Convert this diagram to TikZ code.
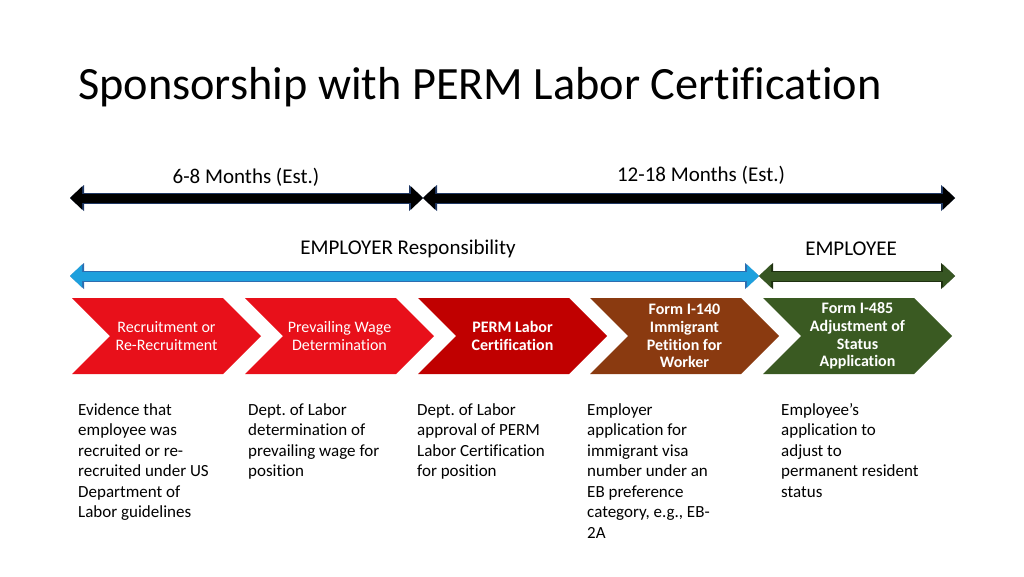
\documentclass[tikz,border=0pt]{standalone}
\usepackage{fontspec}
\setmainfont{Carlito}[Ligatures=NoCommon]
\usetikzlibrary{arrows.meta}
\frenchspacing
\definecolor{stepred}{HTML}{E8101A}
\definecolor{permred}{HTML}{C00000}
\definecolor{formbrown}{HTML}{8A3A10}
\definecolor{formgreen}{HTML}{3A5A22}
\definecolor{spanedge}{HTML}{203864}
\definecolor{duty}{HTML}{1EA0DD}
\definecolor{dutyedge}{HTML}{2E6DB0}
\definecolor{dutygreen}{HTML}{375623}
\definecolor{greenedge}{HTML}{1E3010}

\tikzset{
  span/.style 2 args={line width=9pt, draw=#1,
    {Triangle[width=23pt,length=12pt,line width=0pt]}-{Triangle[width=23pt,length=12pt,line width=0pt]},
    preaction={draw=#2, line width=11pt,
      {Triangle[width=26pt,length=14pt,line width=0pt]}-{Triangle[width=26pt,length=14pt,line width=0pt]}}},
  spanlabel/.style={font=\fontsize{21}{25}\selectfont, inner sep=0pt},
  steptext/.style={text=white, align=center, font=\fontsize{16}{17.7}\selectfont},
  note/.style={anchor=north west, align=left, inner sep=0pt, font=\fontsize{17}{20.5}\selectfont}
}

\begin{document}
\begin{tikzpicture}[x=1pt,y=-1pt]
  \useasboundingbox (0,0) rectangle (1024,576);

  \node[anchor=base west, inner sep=0pt, font=\fontsize{46.3}{56}\selectfont] (title) at (78,99)
    {Sponsorship with PERM Labor Certification};

  % time estimates
  \coordinate (t0) at (70,198);
  \coordinate (t1) at (423,198);
  \coordinate (t2) at (955,198);
  \draw[span={black}{spanedge}] (t0) -- (t1);
  \draw[span={black}{spanedge}] (t1) -- (t2);
  \node[spanlabel] (est1) at (246,177) {6-8 Months (Est.)};
  \node[spanlabel] (est2) at (701,175) {12-18 Months (Est.)};

  % who is responsible
  \coordinate (r0) at (70,276);
  \coordinate (r1) at (759,276);
  \coordinate (r2) at (955,276);
  \draw[span={duty}{dutyedge}] (r0) -- (r1);
  \draw[span={dutygreen}{greenedge}] (r1) -- (r2);
  \node[spanlabel] (employer) at (408,249) {EMPLOYER Responsibility};
  \node[spanlabel] (employee) at (851,249) {EMPLOYEE};

  % process steps
  \foreach \i/\x/\col/\txt in {
      1/72/stepred/{Recruitment or\\Re-Recruitment},
      2/245/stepred/{Prevailing Wage\\Determination},
      3/418/permred/{\bfseries PERM Labor\\\bfseries Certification},
      4/590/formbrown/{\bfseries Form I-140\\\bfseries Immigrant\\\bfseries Petition for\\\bfseries Worker},
      5/763/formgreen/{\bfseries Form I-485\\\bfseries Adjustment of\\\bfseries Status\\\bfseries Application}} {
    \fill[\col] (\x,298) -- ++(151,0) -- ++(38,38) -- ++(-38,38) -- ++(-151,0) -- ++(38,-38) -- cycle;
    \node[steptext] (step\i) at (\x+94.5,336) {\txt};
  }

  % what each step means
  \node[note] (note1) at (78,403) {Evidence that\\employee was\\recruited or re-\\recruited under US\\Department of\\Labor guidelines};
  \node[note] (note2) at (248,403) {Dept. of Labor\\determination of\\prevailing wage for\\position};
  \node[note] (note3) at (417,403) {Dept. of Labor\\approval of PERM\\Labor Certification\\for position};
  \node[note] (note4) at (587,403) {Employer\\application for\\immigrant visa\\number under an\\EB preference\\category, e.g., EB-\\2A};
  \node[note] (note5) at (781,403) {Employee’s\\application to\\adjust to\\permanent resident\\status};
\end{tikzpicture}
\end{document}
